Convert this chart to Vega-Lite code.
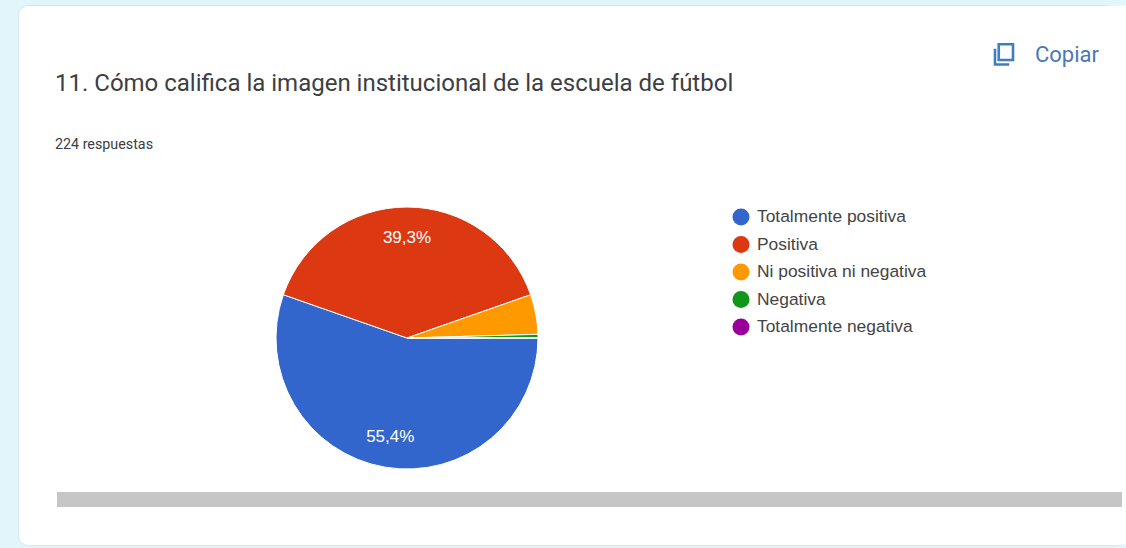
{
"$schema":"https://vega.github.io/schema/vega-lite/v6.json",
"width":1108,"height":540,
"autosize":{"type":"none"},
"padding":{"left":18,"top":5,"right":0,"bottom":3},
"background":"#e1f5fb",
"view":{"fill":"#ffffff","stroke":"#d5e6ee","strokeWidth":1,"cornerRadius":10},
"title":{"text":"11. Cómo califica la imagen institucional de la escuela de fútbol","subtitle":"224 respuestas","frame":"group","anchor":"start","orient":"top","offset":-147,"dx":37,"font":"Roboto","fontSize":24,"fontWeight":"normal","color":"#3c4043","subtitleFont":"Roboto","subtitleFontSize":14.3,"subtitleColor":"#3c4043","subtitlePadding":42},
"data":{"values":[
{"respuesta":"Totalmente positiva","n":124,"orden":1,"etiqueta":"55,4%"},
{"respuesta":"Positiva","n":88,"orden":2,"etiqueta":"39,3%"},
{"respuesta":"Ni positiva ni negativa","n":11,"orden":3,"etiqueta":""},
{"respuesta":"Negativa","n":1,"orden":4,"etiqueta":""},
{"respuesta":"Totalmente negativa","n":0,"orden":5,"etiqueta":""}
]},
"layer":[
{"data":{"values":[{"borde":"derecho"}]},"mark":{"type":"rect","color":"#ffffff"},
"encoding":{"x":{"value":1090},"x2":{"value":1108},"y":{"value":0.5},"y2":{"value":539.5}}},
{"mark":{"type":"arc","outerRadius":131,"stroke":"#ffffff","strokeWidth":1},
"encoding":{
"x":{"value":389},"y":{"value":333},
"theta":{"field":"n","type":"quantitative","stack":true,"scale":{"range":[1.5708,7.854]}},
"order":{"field":"orden","type":"quantitative"},
"color":{"field":"respuesta","type":"nominal","scale":{"domain":["Totalmente positiva","Positiva","Ni positiva ni negativa","Negativa","Totalmente negativa"],"range":["#3366cc","#dc3912","#ff9900","#109618","#990099"]},
"legend":{"title":null,"orient":"none","legendX":714,"legendY":203,"symbolType":"circle","symbolSize":290,"symbolStrokeWidth":0,"labelFont":"Liberation Sans","labelFontSize":17.4,"labelColor":"#444444","labelLimit":300,"rowPadding":9.5,"labelOffset":7}}
}},
{"mark":{"type":"text","font":"Liberation Sans","fontSize":17,"color":"#ffffff","radius":100},
"encoding":{
"x":{"value":389},"y":{"value":333},
"theta":{"field":"n","type":"quantitative","stack":true,"scale":{"range":[1.5708,7.854]}},
"order":{"field":"orden","type":"quantitative"},
"text":{"field":"etiqueta","type":"nominal"}
}},
{"data":{"values":[{"barra":"scroll"}]},"mark":{"type":"rect","color":"#c6c6c6"},
"encoding":{"x":{"value":39},"x2":{"value":1104},"y":{"value":487},"y2":{"value":502}}},
{"data":{"values":[{"accion":"Copiar"}]},"mark":{"type":"text","font":"Roboto","fontSize":22,"fontWeight":400,"color":"#4a78b5","align":"left","baseline":"middle"},
"encoding":{"x":{"value":1017},"y":{"value":50},"text":{"field":"accion","type":"nominal"}}},
{"data":{"values":[{"icono":"copiar"}]},"mark":{"type":"point","filled":false,"fill":"transparent","fillOpacity":0,"stroke":"#3f7cc4","strokeOpacity":1,"strokeWidth":2.6,"size":2.25,"shape":"M-7,-13H12V8H-7Z M-12,-7V14H7"},
"encoding":{"x":{"value":986},"y":{"value":49}}}
]
}
